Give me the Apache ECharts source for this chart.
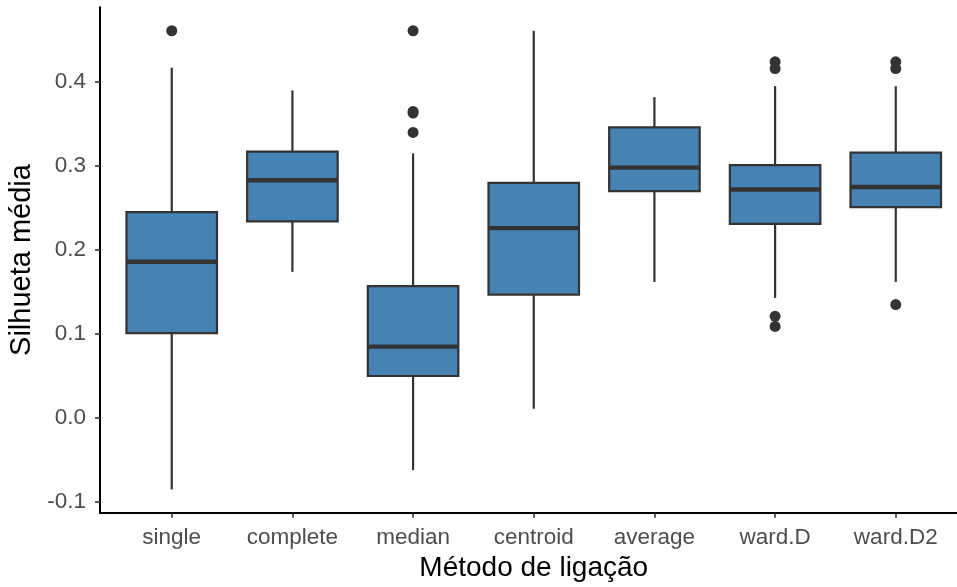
<!DOCTYPE html>
<html>
<head>
<meta charset="utf-8">
<script src="https://cdn.jsdelivr.net/npm/echarts@6/dist/echarts.min.js"></script>
<style>
html,body{margin:0;padding:0;background:#fff;}
#chart{width:957px;height:587px;}
</style>
</head>
<body>
<div id="chart"></div>
<script>
// ---- data ----
var categories = ['single', 'complete', 'median', 'centroid', 'average', 'ward.D', 'ward.D2'];
var whiskerLow  = [-0.085, 0.174, -0.062, 0.011, 0.162, 0.143, 0.162];
var q1          = [0.101, 0.234, 0.050, 0.147, 0.270, 0.231, 0.251];
var medianVal   = [0.186, 0.283, 0.085, 0.226, 0.298, 0.272, 0.275];
var q3          = [0.245, 0.317, 0.157, 0.280, 0.346, 0.301, 0.316];
var whiskerHigh = [0.417, 0.390, 0.315, 0.461, 0.382, 0.395, 0.395];
var outlierCategory = ['single', 'median', 'median', 'median', 'median', 'ward.D', 'ward.D', 'ward.D', 'ward.D', 'ward.D2', 'ward.D2', 'ward.D2'];
var outlierValue    = [0.461, 0.461, 0.365, 0.363, 0.340, 0.424, 0.416, 0.121, 0.109, 0.424, 0.416, 0.135];
var yTicks = [-0.1, 0.0, 0.1, 0.2, 0.3, 0.4];
var yMin = -0.1127, yMax = 0.4889;

var FONT = '"Liberation Sans", Arial, Helvetica, sans-serif';
var boxData = categories.map(function (c, i) {
  return [i, whiskerLow[i], q1[i], medianVal[i], q3[i], whiskerHigh[i]];
});
var outlierData = outlierCategory.map(function (c, i) {
  return [categories.indexOf(c), outlierValue[i]];
});

var chart = echarts.init(document.getElementById('chart'), null, {renderer: 'canvas'});
var option = {
  backgroundColor: '#ffffff',
  animation: false,
  grid: [
    {left: 111.4, width: 844.7, top: 7.3, height: 505.4, outerBoundsMode: 'none', containLabel: false},
    {left: 100, right: 0, top: 7.3, height: 505.4, outerBoundsMode: 'none', containLabel: false}
  ],
  xAxis: [
    {
      type: 'category', gridIndex: 0, data: categories, boundaryGap: true,
      axisLine: {show: false, onZero: false},
      axisTick: {show: true, alignWithLabel: true, length: 5, lineStyle: {color: '#333333', width: 1.6}},
      axisLabel: {show: true, margin: 14, color: '#4d4d4d', fontSize: 22.5, fontFamily: FONT},
      splitLine: {show: false},
      name: 'Método de ligação', nameLocation: 'middle', nameGap: 42,
      nameTextStyle: {color: '#000000', fontSize: 28, fontFamily: FONT}
    },
    {
      type: 'value', gridIndex: 1, min: 0, max: 1,
      axisLine: {show: true, onZero: false, lineStyle: {color: '#000000', width: 2}},
      axisTick: {show: false}, axisLabel: {show: false}, splitLine: {show: false}
    }
  ],
  yAxis: [
    {
      type: 'value', gridIndex: 0, min: yMin, max: yMax, show: false,
      splitLine: {show: false}
    },
    {
      type: 'value', gridIndex: 1, min: yMin, max: yMax,
      axisLine: {show: true, onZero: false, lineStyle: {color: '#000000', width: 2}},
      axisTick: {show: true, length: 5, customValues: yTicks, lineStyle: {color: '#333333', width: 1.6}},
      axisLabel: {show: true, customValues: yTicks, margin: 14, color: '#4d4d4d', fontSize: 22.5, fontFamily: FONT,
        formatter: function (v) { return (Math.abs(v) < 1e-9 ? 0 : v).toFixed(1); }},
      splitLine: {show: false},
      name: 'Silhueta média', nameLocation: 'middle', nameGap: 61, nameRotate: 90,
      nameTextStyle: {color: '#000000', fontSize: 29, fontFamily: FONT}
    }
  ],
  series: [
    {
      type: 'custom', xAxisIndex: 0, yAxisIndex: 0,
      data: boxData,
      encode: {x: 0, y: [1, 2, 3, 4, 5]},
      renderItem: function (params, api) {
        var idx = api.value(0);
        var bw = api.size([1, 0])[0] * 0.75;
        var pLow = api.coord([idx, api.value(1)]);
        var pQ1 = api.coord([idx, api.value(2)]);
        var pMed = api.coord([idx, api.value(3)]);
        var pQ3 = api.coord([idx, api.value(4)]);
        var pHigh = api.coord([idx, api.value(5)]);
        var cx = pQ1[0];
        var stroke = {stroke: '#333333', lineWidth: 2.2};
        return {
          type: 'group',
          children: [
            {type: 'line', shape: {x1: cx, y1: pLow[1], x2: cx, y2: pQ1[1]}, style: stroke},
            {type: 'line', shape: {x1: cx, y1: pQ3[1], x2: cx, y2: pHigh[1]}, style: stroke},
            {type: 'rect', shape: {x: cx - bw / 2, y: pQ3[1], width: bw, height: pQ1[1] - pQ3[1]},
              style: {fill: '#4682B4', stroke: '#333333', lineWidth: 2.2}},
            {type: 'line', shape: {x1: cx - bw / 2, y1: pMed[1], x2: cx + bw / 2, y2: pMed[1]},
              style: {stroke: '#333333', lineWidth: 4.4}}
          ]
        };
      },
      z: 2
    },
    {
      type: 'scatter', xAxisIndex: 0, yAxisIndex: 0,
      data: outlierData, symbol: 'circle', symbolSize: 11,
      itemStyle: {color: '#333333', opacity: 1},
      z: 3
    }
  ]
};
chart.setOption(option);
</script>
</body>
</html>
